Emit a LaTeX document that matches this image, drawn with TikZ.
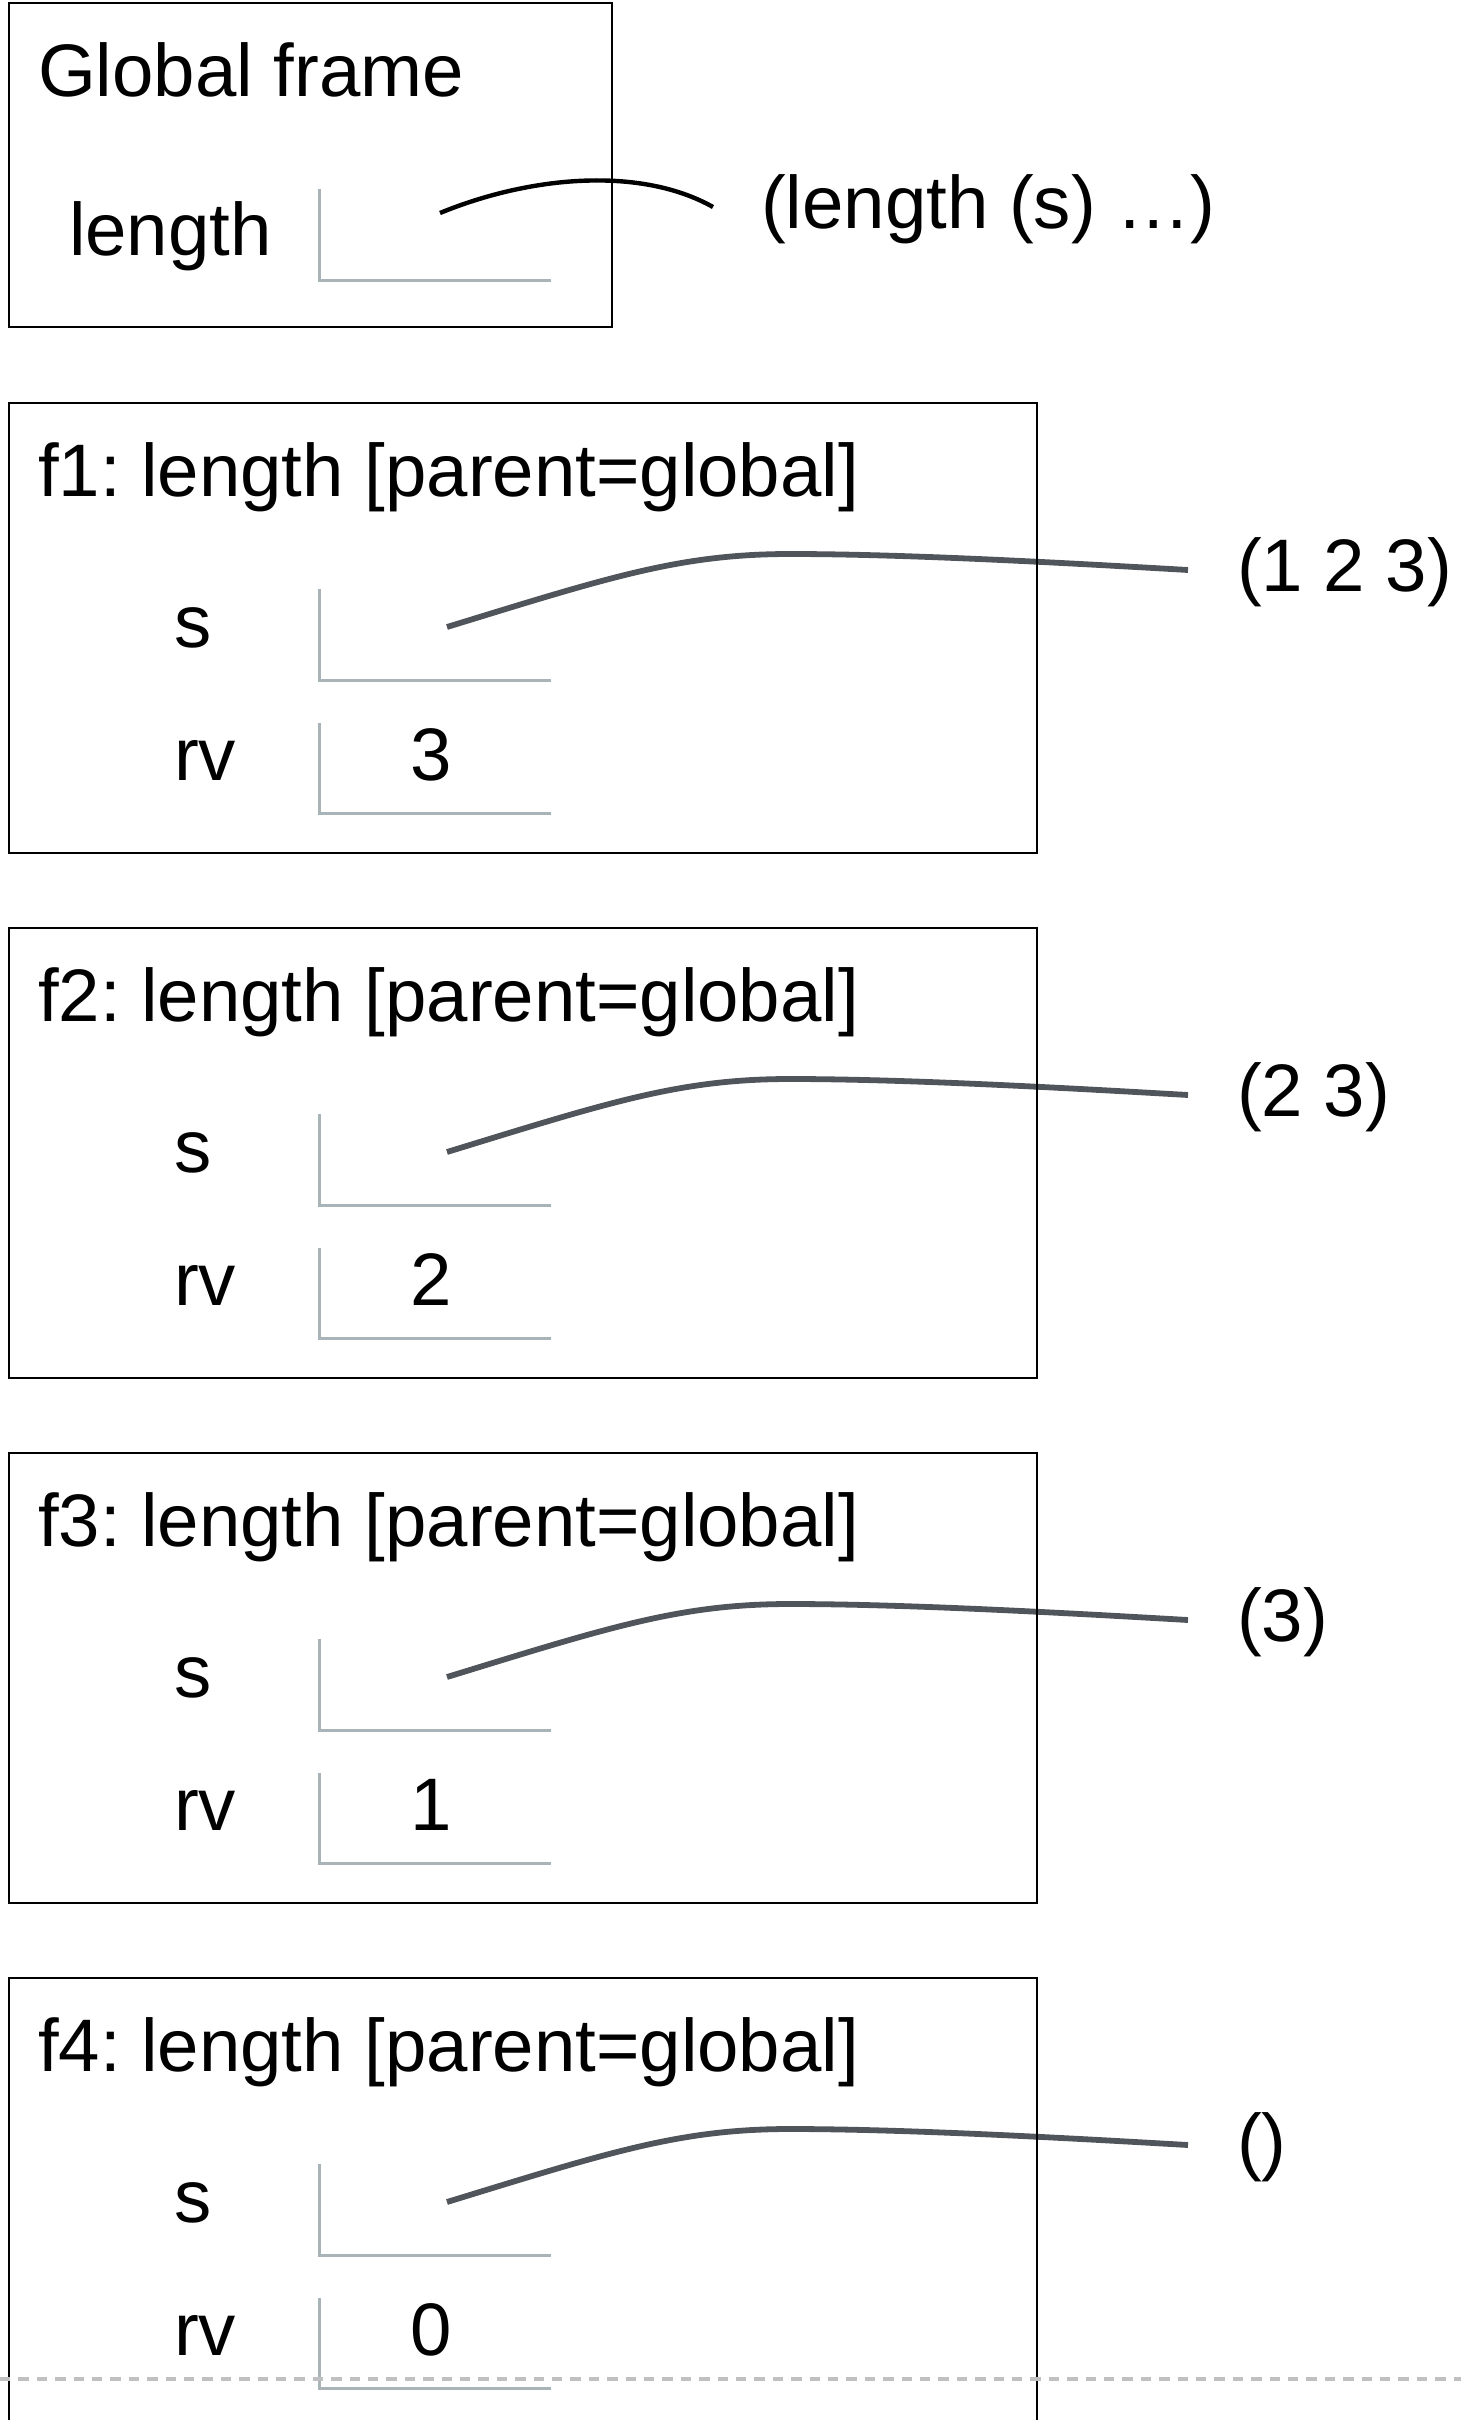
\documentclass[tikz,border=0pt]{standalone}
\usepackage{fontspec}
\setmainfont{Liberation Sans}
\frenchspacing
\definecolor{slotgray}{HTML}{A9B4B8}
\definecolor{ptrgray}{HTML}{50555B}
\definecolor{dashgray}{HTML}{C0C0C0}
\tikzset{
  frame/.style={draw=black, line width=0.68pt},
  slotline/.style={draw=slotgray, line width=0.75pt},
  ptr/.style={draw=ptrgray, line width=1.45pt},
  gptr/.style={draw=black, line width=1.1pt},
  txt/.style={inner sep=0pt, outer sep=0pt, anchor=base west,
    font=\fontsize{18.6pt}{22pt}\selectfont},
  valtxt/.style={txt, anchor=base},
  cutline/.style={draw=dashgray, line width=1pt, dash pattern=on 2.6pt off 2pt},
}
\begin{document}
\begin{tikzpicture}[x=0.25pt, y=-0.25pt]
  \useasboundingbox (0,0) rectangle (1461,2420);
  \clip (0,0) rectangle (1461,2420);

  % global frame
  \node[txt] (gtitle) at (38,96) {Global frame};
  \node[txt] (glen) at (69,255) {length};
  \node[txt] (gval) at (761,228) {(length (s) …)};
  \coordinate (gsrc) at (440,213);
  \coordinate (gdst) at (713,207);
  \draw[gptr] (gsrc) .. controls (530,176) and (640,166) .. (gdst);
  \draw[frame] (9,3) rectangle (612,327);
  \draw[slotline] (319,189) -- (319,280) -- (551,280);

  % call frames
  \foreach \i/\T/\v/\lst in {1/403/3/{(1 2 3)}, 2/928/2/{(2 3)}, 3/1453/1/{(3)}, 4/1978/0/{()}} {
    \node[txt] (f\i title) at (38,\T+93) {f\i: length [parent=global]};
    \node[txt] (f\i s) at (174,\T+244) {s};
    \node[txt] (f\i rv) at (174,\T+377) {rv};
    \node[valtxt] (f\i val) at (431,\T+377) {\v};
    \node[txt] (f\i lst) at (1237,\T+188) {\lst};
    \coordinate (f\i src) at (447,\T+224);
    \coordinate (f\i mid) at (790,\T+151);
    \coordinate (f\i dst) at (1188,\T+167);
    \draw[ptr] (f\i src) .. controls (610,\T+174) and (680,\T+151) .. (f\i mid)
               .. controls (900,\T+151) and (1050,\T+159) .. (f\i dst);
    \draw[frame] (9,\T) rectangle (1037,\T+450);
    \draw[slotline] (319,\T+186) -- (319,\T+277) -- (551,\T+277);
    \draw[slotline] (319,\T+320) -- (319,\T+410) -- (551,\T+410);
  }

  % page cut
  \coordinate (cutL) at (0,2379);
  \coordinate (cutR) at (1461,2379);
  \draw[cutline] (cutL) -- (cutR);
\end{tikzpicture}
\end{document}
